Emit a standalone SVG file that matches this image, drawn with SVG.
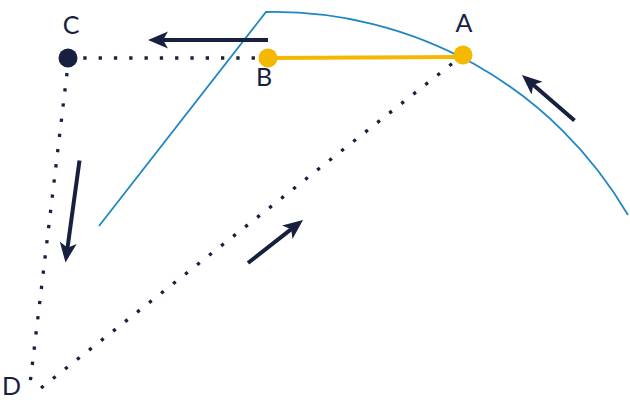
<svg xmlns="http://www.w3.org/2000/svg" width="630" height="400" viewBox="0 0 630 400">
<style>
.dot{fill:none;stroke:#17213f;stroke-width:3.3;stroke-dasharray:3.3 12;}
.arr{fill:none;stroke:#17213f;stroke-width:4;marker-end:url(#ah);}
.lbl{font-family:Lato,"DejaVu Sans",sans-serif;font-weight:400;font-size:25px;fill:#17213f;text-anchor:middle;}
.curve{fill:none;stroke:#1f88c2;stroke-width:1.8;}
</style>
<defs>
<marker id="ah" markerUnits="userSpaceOnUse" markerWidth="22" markerHeight="18" refX="14" refY="8.5" orient="auto">
<path d="M0,0 L20,8.5 L0,17 L5,8.5 z" fill="#17213f"/>
</marker>
</defs>
<rect width="630" height="400" fill="#ffffff"/>
<g id="curve">
<path class="curve" d="M99,226 L266,12 A410,410 0 0 1 628,215"/>
</g>
<g id="connectors">
<line class="dot" x1="68" y1="58" x2="268" y2="58"/>
<line class="dot" x1="67" y1="73" x2="30" y2="384"/>
<line class="dot" x1="41" y1="388" x2="463" y2="55"/>
<line x1="268" y1="58" x2="463" y2="57" stroke="#f5b800" stroke-width="4"/>
<line class="arr" x1="268" y1="40" x2="154" y2="40"/>
<line class="arr" x1="79.5" y1="160.5" x2="66.3" y2="256.6"/>
<line class="arr" x1="248" y1="263" x2="298.3" y2="223.7"/>
<line class="arr" x1="574.5" y1="120.5" x2="526.5" y2="78.9"/>
</g>
<g id="nodeC">
<circle cx="68" cy="58" r="9.5" fill="#17213f"/>
<text class="lbl" x="71" y="34">C</text>
</g>
<g id="nodeB">
<circle cx="268" cy="58" r="9.5" fill="#f5b800"/>
<text class="lbl" x="264" y="86">B</text>
</g>
<g id="nodeA">
<circle cx="463" cy="55" r="9.5" fill="#f5b800"/>
<text class="lbl" x="464" y="32">A</text>
</g>
<g id="nodeD">
<text class="lbl" x="2" y="395" style="text-anchor:start">D</text>
</g>
</svg>
